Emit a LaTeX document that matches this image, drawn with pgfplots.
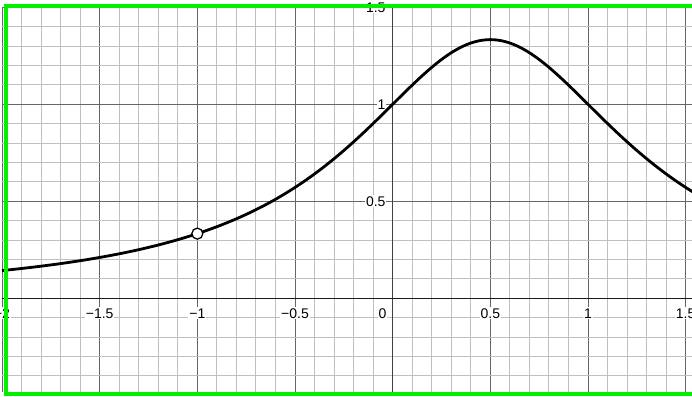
\documentclass[border=0pt]{standalone}
\usepackage{fontspec}
\setmainfont{Liberation Sans}
\usepackage{pgfplots}
\pgfplotsset{compat=1.18}
\begin{document}
\fontsize{14pt}{16pt}\selectfont
\begin{tikzpicture}
\useasboundingbox (-2pt,-4pt) rectangle (690pt,392pt);
\clip (-2pt,-4pt) rectangle (690pt,392pt);
\begin{axis}[
  scale only axis,
  width=690pt, height=385pt,
  xmin=-2, xmax=1.5324,
  ymin=-0.483, ymax=1.5015,
  axis lines=middle,
  axis line style={black!85, line width=1.2pt, -},
  hide obscured x ticks=false,
  hide obscured y ticks=false,
  xtick={-2,-1.5,-1,-0.5,0.5,1,1.5},
  xticklabels={−2,−1.5,−1,−0.5,0.5,1,1.5},
  ytick={0.5,1,1.5},
  yticklabels={0.5,1,1.5},
  minor xtick={-1.9,-1.8,-1.7,-1.6,-1.4,-1.3,-1.2,-1.1,-0.9,-0.8,-0.7,-0.6,-0.4,-0.3,-0.2,-0.1,0.1,0.2,0.3,0.4,0.6,0.7,0.8,0.9,1.1,1.2,1.3,1.4},
  minor ytick={-0.4,-0.3,-0.2,-0.1,0.1,0.2,0.3,0.4,0.6,0.7,0.8,0.9,1.1,1.2,1.3,1.4},
  extra x ticks={0},
  extra x tick labels={0},
  extra x tick style={grid=major, major grid style={draw=black!75, line width=1.1pt}, xticklabel style={anchor=north east, xshift=-5pt}},
  grid=both,
  major grid style={draw=black!60, line width=0.9pt},
  minor grid style={draw=black!25, line width=0.9pt},
  major tick length=0pt, minor tick length=0pt,
  tick style={draw=none},
  xticklabel style={anchor=north, yshift=-9pt, fill=white, inner sep=1pt},
  yticklabel style={anchor=east, xshift=-6pt, fill=white, inner sep=1pt},
  tick label style={font=\fontsize{14pt}{16pt}\selectfont},
  clip=true,
]
\addplot[black!90, line width=1.3pt, forget plot] coordinates {(-2.1,0) (1.6,0)};
\addplot[black, line width=2.8pt, smooth] coordinates {
(-2.00,0.142857) (-1.95,0.148093) (-1.90,0.153610) (-1.85,0.159426) (-1.80,0.165563)
(-1.75,0.172043) (-1.70,0.178891) (-1.65,0.186133) (-1.60,0.193798) (-1.55,0.201918)
(-1.50,0.210526) (-1.45,0.219660) (-1.40,0.229358) (-1.35,0.239664) (-1.30,0.250627)
(-1.25,0.262295) (-1.20,0.274725) (-1.15,0.287977) (-1.10,0.302115) (-1.05,0.317209)
(-1.00,0.333333) (-0.95,0.350570) (-0.90,0.369004) (-0.85,0.388727) (-0.80,0.409836)
(-0.75,0.432432) (-0.70,0.456621) (-0.65,0.482509) (-0.60,0.510204) (-0.55,0.539811)
(-0.50,0.571429) (-0.45,0.605144) (-0.40,0.641026) (-0.35,0.679117) (-0.30,0.719424)
(-0.25,0.761905) (-0.20,0.806452) (-0.15,0.852878) (-0.10,0.900901) (-0.05,0.950119)
(0.00,1.000000) (0.05,1.049869) (0.10,1.098901) (0.15,1.146132) (0.20,1.190476)
(0.25,1.230769) (0.30,1.265823) (0.35,1.294498) (0.40,1.315789) (0.45,1.328904)
(0.50,1.333333) (0.55,1.328904) (0.60,1.315789) (0.65,1.294498) (0.70,1.265823)
(0.75,1.230769) (0.80,1.190476) (0.85,1.146132) (0.90,1.098901) (0.95,1.049869)
(1.00,1.000000) (1.05,0.950119) (1.10,0.900901) (1.15,0.852878) (1.20,0.806452)
(1.25,0.761905) (1.30,0.719424) (1.35,0.679117) (1.40,0.641026) (1.45,0.605144)
(1.50,0.571429) (1.55,0.539811)
};
\addplot[only marks, mark=*, mark size=5.5pt,
  mark options={fill=white, draw=black, line width=1.3pt}] coordinates {(-1,0.333333)};
\end{axis}
\draw[color={rgb,255:red,0;green,240;blue,0}, line width=4pt] (4pt,-2pt) rectangle (720pt,386.25pt);
\end{tikzpicture}
\end{document}
